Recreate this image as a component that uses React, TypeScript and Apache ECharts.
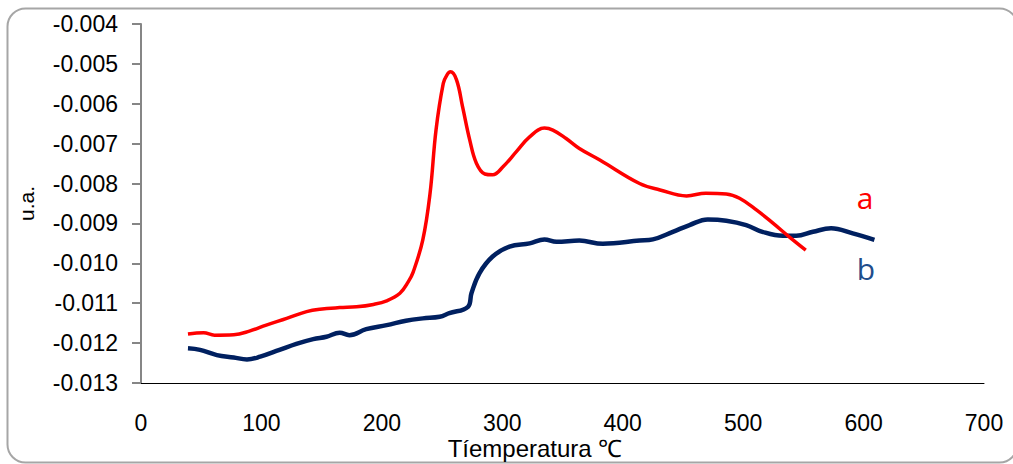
import React, { useEffect, useRef } from "react";
import * as echarts from "echarts";

const aTemp = [39, 52, 61, 77, 90, 104, 121, 137.5, 148.5, 165, 179, 193, 204, 215, 222, 226, 234, 240, 245, 251, 254, 257, 262, 267, 273, 278.5, 285.5, 292, 300.6, 311.7, 322.7, 335, 342, 353, 364, 381, 414, 431, 453, 469, 486, 497, 511, 525, 538, 552];
const aValue = [-0.01177, -0.01174, -0.0118, -0.01179, -0.0117, -0.01155, -0.01138, -0.01121, -0.01115, -0.01111, -0.01109, -0.01103, -0.01094, -0.01075, -0.01046, -0.01022, -0.00941, -0.00825, -0.00665, -0.00549, -0.00528, -0.0052, -0.0054, -0.00607, -0.00691, -0.00749, -0.00776, -0.00778, -0.00758, -0.0072, -0.00683, -0.00661, -0.00666, -0.00687, -0.00712, -0.00741, -0.008, -0.00816, -0.00831, -0.00824, -0.00826, -0.00837, -0.00866, -0.009, -0.00933, -0.00967];

const bTemp = [39, 49, 63, 77, 88, 99, 115, 129, 143, 154, 165, 173, 187, 204, 220, 234, 248, 256, 271.5, 274.4, 281, 292, 306, 322.7, 335, 345, 364, 383.5, 414, 425, 441.6, 455.5, 470.6, 486, 502.5, 516, 533, 544, 558, 573, 591, 609];
const bValue = [-0.01213, -0.01217, -0.0123, -0.01236, -0.01241, -0.01234, -0.01217, -0.01202, -0.0119, -0.01184, -0.01174, -0.0118, -0.01165, -0.01155, -0.01144, -0.01138, -0.01134, -0.01125, -0.01109, -0.01075, -0.01025, -0.00983, -0.00958, -0.0095, -0.0094, -0.00946, -0.00943, -0.00951, -0.00943, -0.0094, -0.00921, -0.00904, -0.0089, -0.00893, -0.00904, -0.00921, -0.00931, -0.00931, -0.00921, -0.00912, -0.00925, -0.00941];

const seriesLabels = ["a", "b"];
const xAxisTitle = "Tíemperatura ℃";
const yAxisTitle = "u.a.";

export default function App() {
  const ref = useRef<HTMLDivElement>(null);
  useEffect(() => {
    document.body.style.margin = "0";
    const chart = echarts.init(ref.current!, null, { renderer: "svg" });
    const font = "'Liberation Sans', Arial, sans-serif";
    chart.setOption({
      animation: false,
      backgroundColor: "#ffffff",
      grid: { left: 141, right: 29, top: 24, bottom: 81, containLabel: false },
      xAxis: {
        type: "value",
        min: 0,
        max: 700,
        interval: 100,
        axisLine: { show: true, lineStyle: { color: "#000000", width: 1 } },
        axisTick: { show: false },
        splitLine: { show: false },
        axisLabel: { color: "#000", fontSize: 23, fontFamily: font, margin: 28 },
      },
      yAxis: {
        type: "value",
        min: -0.013,
        max: -0.004,
        interval: 0.001,
        name: yAxisTitle,
        nameLocation: "middle",
        nameGap: 104,
        nameTextStyle: { color: "#000", fontSize: 21, fontFamily: font },
        axisLine: { show: true, lineStyle: { color: "#868686", width: 2 } },
        axisTick: { show: true, inside: false, length: 9, lineStyle: { color: "#868686", width: 2 } },
        splitLine: { show: false },
        axisLabel: {
          color: "#000",
          fontSize: 23,
          fontFamily: font,
          margin: 23,
          formatter: (v: number) => v.toFixed(3),
        },
      },
      series: [
        {
          type: "line",
          name: seriesLabels[0],
          data: aTemp.map((t, i) => [t, aValue[i]]),
          showSymbol: false,
          smooth: 0.4,
          lineStyle: { color: "#FF0000", width: 3.5 },
          z: 3,
        },
        {
          type: "line",
          name: seriesLabels[1],
          data: bTemp.map((t, i) => [t, bValue[i]]),
          showSymbol: false,
          smooth: 0.4,
          lineStyle: { color: "#002060", width: 4.5 },
          z: 2,
        },
      ],
      graphic: [
        {
          type: "rect",
          shape: { x: 7.5, y: 8.5, width: 1010, height: 454, r: 18 },
          style: { fill: "none", stroke: "#A6A6A6", lineWidth: 2 },
          z: -1,
        },
        {
          type: "text",
          x: 535,
          y: 448,
          style: { text: xAxisTitle, fill: "#000", fontSize: 24, fontFamily: font, textAlign: "center", textVerticalAlign: "middle" },
        },
        {
          type: "text",
          x: 865,
          y: 197,
          style: { text: seriesLabels[0], fill: "#FF0000", fontSize: 30, fontFamily: "'Open Sans', sans-serif", textAlign: "center", textVerticalAlign: "middle" },
        },
        {
          type: "text",
          x: 866,
          y: 268,
          style: { text: seriesLabels[1], fill: "#1F4E8C", fontSize: 30, fontFamily: "'Open Sans', sans-serif", textAlign: "center", textVerticalAlign: "middle" },
        },
      ],
    });
    return () => chart.dispose();
  }, []);
  return <div ref={ref} style={{ width: 1013, height: 464 }} />;
}
